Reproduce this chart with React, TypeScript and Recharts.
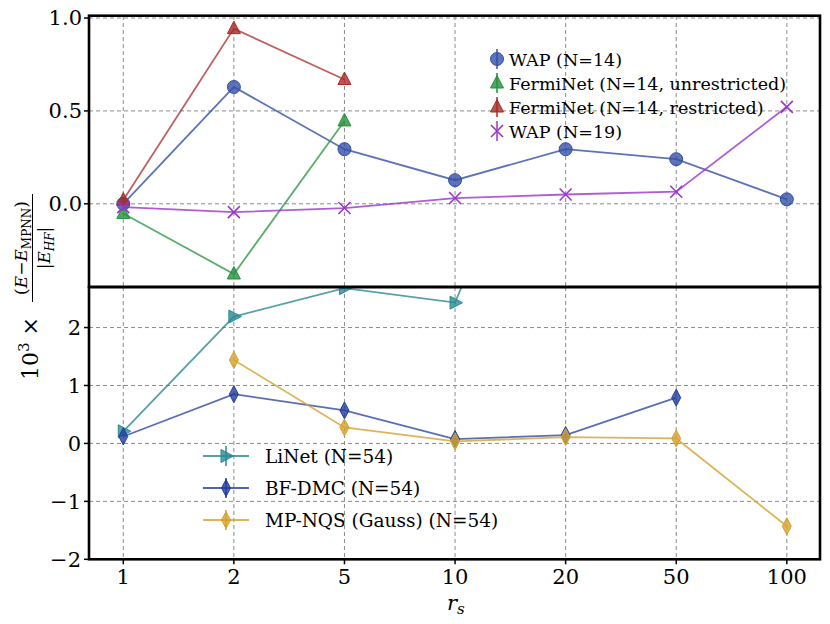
import React from "react";
import { LineChart, Line, XAxis, YAxis, CartesianGrid } from "recharts";

const rs = ["1", "2", "5", "10", "20", "50", "100"];

// upper panel
const wap14 = [0.0, 0.629, 0.294, 0.127, 0.294, 0.24, 0.024];
const fermiUnrestricted = [-0.052, -0.378, 0.446];
const fermiRestricted = [0.02, 0.943, 0.669];
const wap19 = [-0.018, -0.045, -0.023, 0.031, 0.05, 0.065, 0.522];

// lower panel
const liNet = [0.21, 2.19, 2.68, 2.43, 7.0];
const bfDmc = [0.12, 0.85, 0.57, 0.076, 0.145, 0.79];
const mpNqs = [null, 1.44, 0.276, 0.035, 0.11, 0.086, -1.43];

const topTicks = [0, 0.5, 1.0];
const bottomTicks = [-2, -1, 0, 1, 2];

const rows = rs.map((label, i) => ({
  x: i,
  label,
  wap14: wap14[i] ?? null,
  fermiUnrestricted: fermiUnrestricted[i] ?? null,
  fermiRestricted: fermiRestricted[i] ?? null,
  wap19: wap19[i] ?? null,
  liNet: liNet[i] ?? null,
  bfDmc: bfDmc[i] ?? null,
  mpNqs: mpNqs[i] ?? null,
}));

const FONT = "DejaVu Serif";
const C = {
  wap14: "#3550a6",
  green: "#23913c",
  red: "#a82b27",
  purple: "#9b35c9",
  teal: "#2b8a95",
  dmc: "#233d9c",
  gold: "#d4a22e",
};

type Shape = "circle" | "tri" | "x" | "right" | "thin";

function Marker({ shape, color, cx, cy }: { shape: Shape; color: string; cx: number; cy: number }) {
  const common = { fill: color, fillOpacity: 0.8, stroke: color, strokeWidth: 1 };
  if (shape === "circle") return <circle cx={cx} cy={cy} r={6.5} {...common} />;
  if (shape === "tri")
    return <polygon points={`${cx},${cy - 7.5} ${cx + 6.5},${cy + 5} ${cx - 6.5},${cy + 5}`} {...common} />;
  if (shape === "right")
    return <polygon points={`${cx + 7.5},${cy} ${cx - 5},${cy - 6.5} ${cx - 5},${cy + 6.5}`} {...common} />;
  if (shape === "thin")
    return <polygon points={`${cx},${cy - 8.5} ${cx + 4.5},${cy} ${cx},${cy + 8.5} ${cx - 4.5},${cy}`} {...common} />;
  return (
    <g stroke={color} strokeWidth={1.6}>
      <line x1={cx - 6} y1={cy - 6} x2={cx + 6} y2={cy + 6} />
      <line x1={cx - 6} y1={cy + 6} x2={cx + 6} y2={cy - 6} />
    </g>
  );
}

const dot = (shape: Shape, color: string) => (props: any) => {
  const { cx, cy, value, index } = props;
  if (value == null || cx == null || cy == null) return <g key={index} />;
  return (
    <g key={index}>
      <Marker shape={shape} color={color} cx={cx} cy={cy} />
    </g>
  );
};

const fmtMinus = (v: number) => (v < 0 ? "\u2212" + Math.abs(v) : String(v));

const topLegend = [
  { name: "WAP (N=14)", color: C.wap14, shape: "circle" as Shape },
  { name: "FermiNet (N=14, unrestricted)", color: C.green, shape: "tri" as Shape },
  { name: "FermiNet (N=14, restricted)", color: C.red, shape: "tri" as Shape },
  { name: "WAP (N=19)", color: C.purple, shape: "x" as Shape },
];
const bottomLegend = [
  { name: "LiNet (N=54)", color: C.teal, shape: "right" as Shape },
  { name: "BF-DMC (N=54)", color: C.dmc, shape: "thin" as Shape },
  { name: "MP-NQS (Gauss) (N=54)", color: C.gold, shape: "thin" as Shape },
];

export default function App() {
  const tick = { fill: "#000", fontSize: 21, fontFamily: FONT };
  const grid = { stroke: "#8c8c8c", strokeDasharray: "4 3", strokeWidth: 1 };
  return (
    <div style={{ position: "relative", width: 830, height: 624, background: "#fff", fontFamily: FONT }}>
      <style>{`body{margin:0}`}</style>

      {/* lower panel, also carries the x axis */}
      <div style={{ position: "absolute", left: 0, top: 0 }}>
        <LineChart width={830} height={624} data={rows} margin={{ top: 287, right: 10, bottom: 0, left: 0 }}>
          <CartesianGrid {...grid} />
          <XAxis
            dataKey="x"
            type="number"
            domain={[-0.31, 6.3]}
            ticks={[0, 1, 2, 3, 4, 5, 6]}
            tickFormatter={(i: number) => rs[i]}
            height={64.7}
            tick={tick}
            tickSize={5}
            tickMargin={5}
            tickLine={{ stroke: "#000", strokeWidth: 1.5 }}
            axisLine={false}
          />
          <YAxis
            type="number"
            domain={[-2, 2.7]}
            ticks={bottomTicks}
            allowDataOverflow
            width={89}
            tick={tick}
            tickFormatter={fmtMinus}
            tickSize={5}
            tickMargin={3}
            tickLine={{ stroke: "#000", strokeWidth: 1.5 }}
            axisLine={false}
          />
          <Line dataKey="liNet" stroke={C.teal} strokeOpacity={0.8} strokeWidth={1.8} dot={dot("right", C.teal)} isAnimationActive={false} />
          <Line dataKey="bfDmc" stroke={C.dmc} strokeOpacity={0.75} strokeWidth={1.8} dot={dot("thin", C.dmc)} isAnimationActive={false} />
          <Line dataKey="mpNqs" stroke={C.gold} strokeOpacity={0.8} strokeWidth={1.8} dot={dot("thin", C.gold)} isAnimationActive={false} />
        </LineChart>
      </div>

      {/* upper panel */}
      <div style={{ position: "absolute", left: 0, top: 0 }}>
        <LineChart width={830} height={300} data={rows} margin={{ top: 16, right: 10, bottom: 13, left: 0 }}>
          <CartesianGrid {...grid} />
          <XAxis dataKey="x" type="number" domain={[-0.31, 6.3]} ticks={[0, 1, 2, 3, 4, 5, 6]} hide />
          <YAxis
            type="number"
            domain={[-0.448, 1.011]}
            ticks={topTicks}
            allowDataOverflow
            width={89}
            tick={tick}
            tickFormatter={(v: number) => v.toFixed(1)}
            tickSize={5}
            tickMargin={2}
            tickLine={{ stroke: "#000", strokeWidth: 1.5 }}
            axisLine={false}
          />
          <Line dataKey="wap14" stroke={C.wap14} strokeOpacity={0.8} strokeWidth={1.8} dot={dot("circle", C.wap14)} isAnimationActive={false} />
          <Line dataKey="fermiUnrestricted" stroke={C.green} strokeOpacity={0.75} strokeWidth={1.8} dot={dot("tri", C.green)} isAnimationActive={false} />
          <Line dataKey="fermiRestricted" stroke={C.red} strokeOpacity={0.75} strokeWidth={1.8} dot={dot("tri", C.red)} isAnimationActive={false} />
          <Line dataKey="wap19" stroke={C.purple} strokeOpacity={0.8} strokeWidth={1.8} dot={dot("x", C.purple)} isAnimationActive={false} />
        </LineChart>
      </div>

      {/* frames, legends, axis labels */}
      <svg width={830} height={624} style={{ position: "absolute", left: 0, top: 0 }} fontFamily={FONT}>
        <rect x={89} y={15.7} width={731} height={271.3} fill="none" stroke="#000" strokeWidth={2.6} />
        <rect x={89} y={287} width={731} height={272.3} fill="none" stroke="#000" strokeWidth={2.6} />

        {topLegend.map((e, i) => {
          const y = 59 + i * 24;
          return (
            <g key={e.name}>
              <line x1={497} x2={497} y1={y - 10} y2={y + 10} stroke={e.color} strokeWidth={1.5} />
              <Marker shape={e.shape} color={e.color} cx={497} cy={y} />
              <text x={509} y={y + 6.5} fontSize={17.5} fill="#000">{e.name}</text>
            </g>
          );
        })}

        {bottomLegend.map((e, i) => {
          const y = 456 + i * 32;
          return (
            <g key={e.name}>
              <line x1={203} x2={249} y1={y} y2={y} stroke={e.color} strokeWidth={1.8} strokeOpacity={0.8} />
              <line x1={226} x2={226} y1={y - 10} y2={y + 10} stroke={e.color} strokeWidth={1.5} />
              <Marker shape={e.shape} color={e.color} cx={226} cy={y} />
              <text x={265} y={y + 7} fontSize={18.5} fill="#000">{e.name}</text>
            </g>
          );
        })}

        <text x={447} y={610} fontSize={21} fontStyle="italic" fill="#000">
          r<tspan fontSize={15} dy={4}>s</tspan>
        </text>

        <g transform="translate(0,287) rotate(-90)" fill="#000">
          <text x={-93} y={38} fontSize={22}>
            10<tspan fontSize={15} dy={-9}>3</tspan>
            <tspan dy={9}> ×</tspan>
          </text>
          <text x={39} y={27} fontSize={17} textAnchor="middle">
            (<tspan fontStyle="italic">E</tspan>−<tspan fontStyle="italic">E</tspan>
            <tspan fontSize={12} dy={4}>MPNN</tspan>
            <tspan dy={-4}>)</tspan>
          </text>
          <line x1={-15} x2={93} y1={32.5} y2={32.5} stroke="#000" strokeWidth={1} />
          <text x={39} y={50} fontSize={17} textAnchor="middle">
            |<tspan fontStyle="italic">E</tspan>
            <tspan fontSize={12} dy={4} fontStyle="italic">HF</tspan>
            <tspan dy={-4}>|</tspan>
          </text>
        </g>
      </svg>
    </div>
  );
}
